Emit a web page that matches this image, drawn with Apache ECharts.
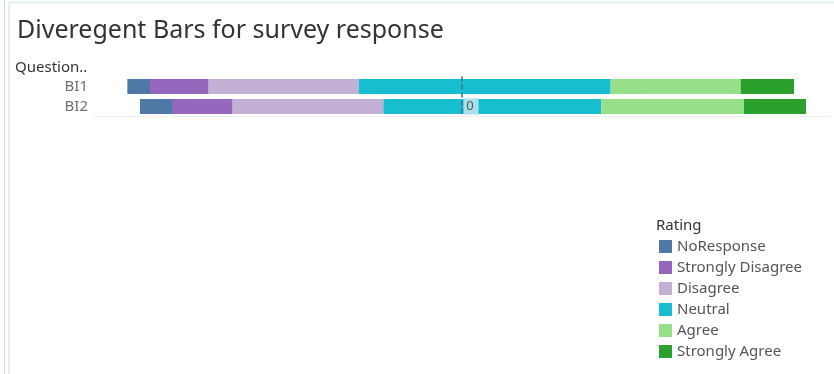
<!DOCTYPE html>
<html>
<head>
<meta charset="utf-8">
<script src="https://cdn.jsdelivr.net/npm/echarts@6/dist/echarts.min.js"></script>
<style>html,body{margin:0;padding:0;background:#fff;}#c{width:834px;height:374px;}</style>
</head>
<body>
<div id="c"></div>
<script>
// Data (percent of responses)
var questions = ['BI1', 'BI2'];
var ratings = ['NoResponse', 'Strongly Disagree', 'Disagree', 'Neutral', 'Agree', 'Strongly Agree'];
var startOffset = [-50.2, -48.3];      // left edge of each diverging bar
var noResponse = [3.4, 4.8];
var stronglyDisagree = [8.8, 9.1];
var disagree = [22.5, 22.6];
var neutral = [37.8, 32.7];
var agree = [19.5, 21.4];
var stronglyAgree = [8.0, 9.3];
var zeroRef = 0;

var colors = ['#4e79a7', '#9467bd', '#c5b0d5', '#17becf', '#98df8a', '#2ca02c'];
var seriesValues = [noResponse, stronglyDisagree, disagree, neutral, agree, stronglyAgree];

var FONT = 'Noto Sans';
var chart = echarts.init(document.getElementById('c'), null, {renderer: 'canvas'});

var series = [{
  name: '_base', type: 'bar', stack: 's', stackStrategy: 'all', silent: true,
  barWidth: 15, data: startOffset, itemStyle: {color: 'rgba(0,0,0,0)'},
  markLine: {
    silent: true, symbol: 'none', label: {show: false},
    lineStyle: {color: '#3f6f80', type: [5, 3], width: 1.5},
    data: [{xAxis: zeroRef}]
  },
  markPoint: {
    silent: true,
    data: [{coord: [zeroRef, 'BI2'], value: zeroRef}],
    symbol: 'rect', symbolSize: [15, 16], symbolOffset: [9, 0],
    itemStyle: {color: '#a9dfe8'},
    label: {show: true, formatter: '0', color: '#555', fontSize: 13, fontFamily: FONT, offset: [-1, 0]},
    z: 10
  }
}];
ratings.forEach(function (r, i) {
  series.push({
    name: r, type: 'bar', stack: 's', stackStrategy: 'all', barWidth: 15,
    data: seriesValues[i], itemStyle: {color: colors[i]}
  });
});

chart.setOption({
  animation: false,
  backgroundColor: '#fff',
  textStyle: {fontFamily: FONT},
  title: [
    {text: 'Diveregent Bars for survey response', left: 12, top: 13,
     textStyle: {fontSize: 25, fontWeight: 'normal', color: '#333', fontFamily: FONT}},
    {text: 'Question..', left: 10, top: 55,
     textStyle: {fontSize: 15, fontWeight: 'normal', color: '#333', fontFamily: FONT}},
    {text: 'Rating', left: 651, top: 213,
     textStyle: {fontSize: 15, fontWeight: 'normal', color: '#333', fontFamily: FONT}}
  ],
  legend: {
    data: ratings, orient: 'vertical', left: 654, top: 234,
    itemWidth: 13, itemHeight: 13, itemGap: 6, icon: 'rect',
    selectedMode: false,
    textStyle: {fontSize: 15, color: '#555', fontFamily: FONT, padding: [0, 0, 0, 0]}
  },
  grid: {left: 94, right: 4, top: 76.5, height: 40, containLabel: false},
  xAxis: {
    type: 'value', min: -55.2, max: 55.2,
    axisLabel: {show: false}, axisTick: {show: false},
    splitLine: {show: false},
    axisLine: {show: true, lineStyle: {color: '#f0f0f0'}}
  },
  yAxis: {
    type: 'category', data: questions, inverse: true,
    axisTick: {show: false},
    axisLine: {show: true, lineStyle: {color: '#ededed'}},
    axisLabel: {color: '#707070', fontSize: 15, margin: 6, fontFamily: FONT, interval: 0},
    splitLine: {show: false}
  },
  graphic: [
    {type: 'line', shape: {x1: 4.5, y1: 0, x2: 4.5, y2: 374}, style: {stroke: '#d8d8d8', lineWidth: 1}, silent: true},
    {type: 'line', shape: {x1: 9, y1: 3, x2: 9, y2: 374}, style: {stroke: '#e3f1f4', lineWidth: 2}, silent: true},
    {type: 'line', shape: {x1: 9, y1: 2.5, x2: 834, y2: 2.5}, style: {stroke: '#e3f1f4', lineWidth: 2}, silent: true}
  ],
  series: series
});
</script>
</body>
</html>
